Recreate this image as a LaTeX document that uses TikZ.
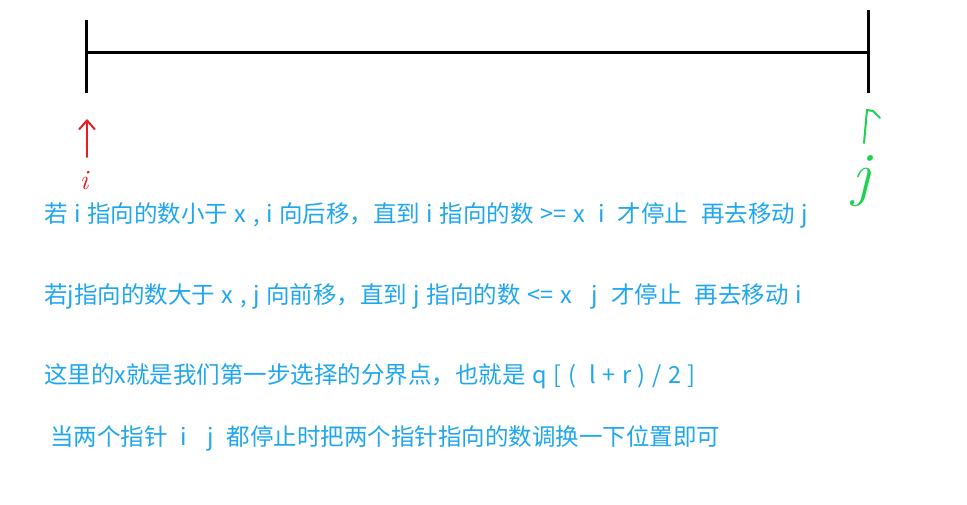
\documentclass[tikz,border=0pt]{standalone}
\usepackage{fontspec}
\usepackage{tikz}
\usetikzlibrary{positioning, arrows.meta}
\newfontfamily\cjk[WordSpace=1.25]{Noto Sans CJK SC}
\definecolor{tipblue}{RGB}{30,166,238}
\definecolor{penred}{RGB}{232,28,36}
\definecolor{pengreen}{RGB}{30,210,80}
\tikzset{
  note/.style={anchor=west, inner sep=0pt, text=tipblue, font=\cjk\fontsize{23.5}{23.5}\selectfont},
  bar/.style={line width=3pt, black},
  pen/.style={line width=2pt, line cap=round}
}

\begin{document}
\begin{tikzpicture}[x=1pt, y=-1pt]
    \useasboundingbox (0,0) rectangle (967,505);
    % the array
    \coordinate (l) at (86,53);
    \coordinate (r) at (868,53);
    \draw[bar] (l) -- (r);
    \draw[bar] (86,20) -- (86,93);
    \draw[bar] (868,10) -- (868,93);

    % pointers
    \node[text=penred, font=\itshape\fontsize{28}{28}\selectfont] (pi) at (84,181) {i};
    \node[text=pengreen, font=\itshape\fontsize{60}{60}\selectfont] (pj) at (861,181) {j};
    \coordinate (pitip) at (87,119);
    \coordinate (pjtip) at (867,110);
    \draw[pen, penred, -{Straight Barb[length=9pt, width=16pt]}] (87,157) -- (pitip);
    \draw[pen, pengreen] (864,143) -- (pjtip) -- (873,111) -- (880,118);

    % notes
    \node[note] (n1) at (44,215) {若 i 指向的数小于 x , i 向后移，直到 i 指向的数 >= x \ i \ 才停止 \ 再去移动 j};
    \node[note] (n2) at (44,296) {若j指向的数大于 x , j 向前移，直到 j 指向的数 <= x \ \ j \ 才停止 \ 再去移动 i};
    \node[note] (n3) at (44,376) {这里的x就是我们第一步选择的分界点，也就是 q [ ( \ l + r ) / 2 ]};
    \node[note] (n4) at (50,438) {当两个指针 \ i \ \ j \ 都停止时把两个指针指向的数调换一下位置即可};
\end{tikzpicture}
\end{document}
